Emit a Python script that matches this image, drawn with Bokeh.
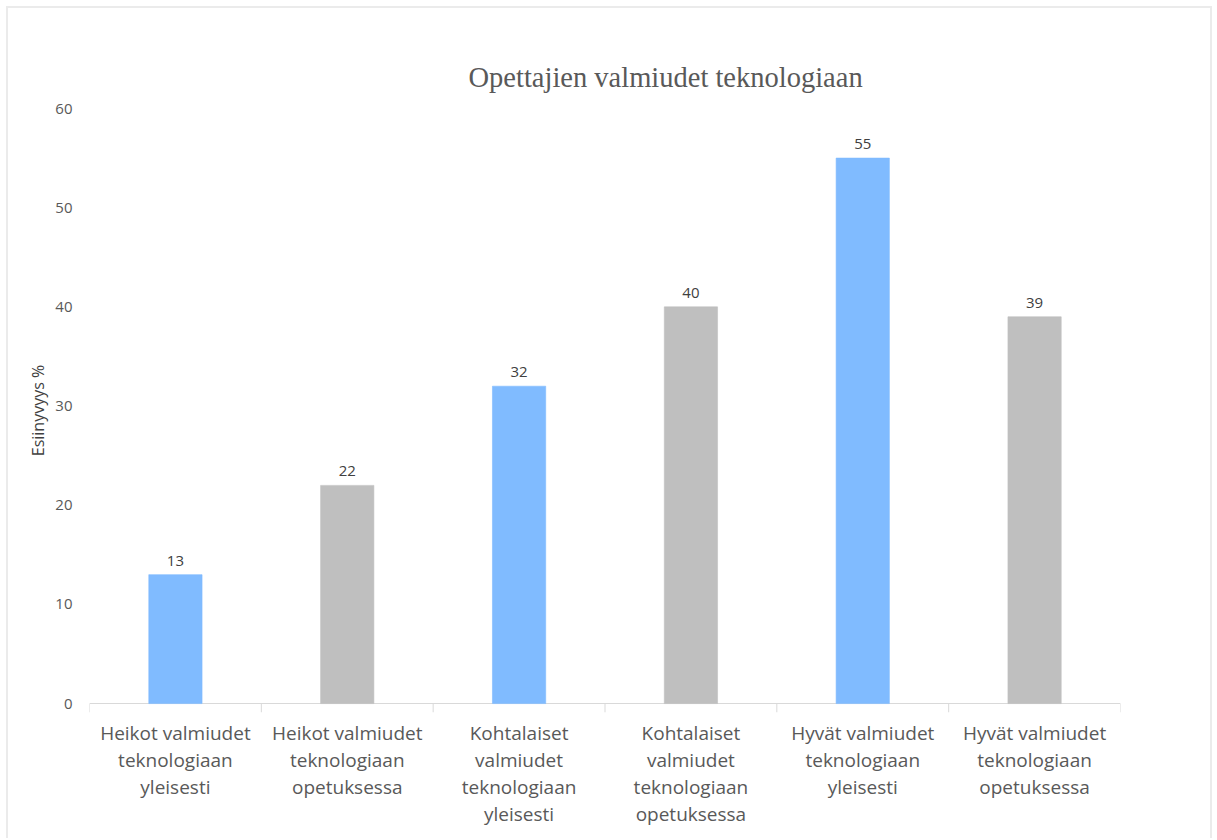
from bokeh.plotting import figure
from bokeh.models import ColumnDataSource, Range1d, FixedTicker
from bokeh.transform import dodge
from bokeh.core.properties import value
from bokeh.embed import file_html
from bokeh.resources import INLINE

categories = [
    "Heikot valmiudet\nteknologiaan\nyleisesti",
    "Heikot valmiudet\nteknologiaan\nopetuksessa",
    "Kohtalaiset\nvalmiudet\nteknologiaan\nyleisesti",
    "Kohtalaiset\nvalmiudet\nteknologiaan\nopetuksessa",
    "Hyvät valmiudet\nteknologiaan\nyleisesti",
    "Hyvät valmiudet\nteknologiaan\nopetuksessa",
]
values = [13, 22, 32, 40, 55, 39]
labels = ["13", "22", "32", "40", "55", "39"]
colors = ["#80BBFF", "#BFBFBF", "#80BBFF", "#BFBFBF", "#80BBFF", "#BFBFBF"]
y_ticks = [0, 10, 20, 30, 40, 50, 60]

FONT = "Open Sans"
TICK = 0.9  # tick length in data units (below zero)

src = ColumnDataSource(dict(cat=categories, val=values, lab=labels, col=colors))

p = figure(
    x_range=categories, y_range=Range1d(-TICK, 60),
    width=1206, height=832,
    min_border_left=81, min_border_right=94, min_border_top=100, min_border_bottom=128,
    output_backend="svg", toolbar_location=None,
    title="Opettajien valmiudet teknologiaan",
)
p.styles = {
    "margin-left": "6px", "margin-top": "6px",
    "border-top": "2px solid #EBEBEB",
    "border-left": "2px solid #EBEBEB",
    "border-right": "2px solid #EBEBEB",
}
p.outline_line_color = None
p.grid.grid_line_color = None
p.background_fill_color = "white"
p.border_fill_color = "white"

p.title.align = "left"
p.title.offset = 379
p.title.text_font = "Liberation Serif"
p.title.text_font_size = "28.5px"
p.title.text_font_style = "normal"
p.title.text_color = "#595959"
p.title.standoff = 32

# axis line at zero and category boundary ticks
p.hspan(y=[0], line_color="#D9D9D9", line_width=1)
p.segment(x0=dodge("cat", -0.5, range=p.x_range), y0=0,
          x1=dodge("cat", -0.5, range=p.x_range), y1=-TICK,
          source=src, line_color="#D9D9D9", line_width=1)
last = ColumnDataSource(dict(cat=categories[-1:]))
p.segment(x0=dodge("cat", 0.5, range=p.x_range), y0=0,
          x1=dodge("cat", 0.5, range=p.x_range), y1=-TICK,
          source=last, line_color="#D9D9D9", line_width=1)

p.vbar(x="cat", bottom=0, top="val", width=0.31, source=src,
       fill_color="col", line_color="col", line_alpha=0.6)
p.text(x="cat", y="val", text="lab", source=src, text_align="center", text_baseline="bottom",
       y_offset=-9, text_font=value(FONT), text_font_size="15px", text_color="#404040")

# y axis
ya = p.yaxis[0]
ya.ticker = FixedTicker(ticks=y_ticks)
ya.axis_line_color = None
ya.major_tick_line_color = None
ya.minor_tick_line_color = None
ya.major_label_text_font = FONT
ya.major_label_text_font_size = "15px"
ya.major_label_text_color = "#595959"
ya.major_label_standoff = 11
ya.axis_label = "Esiinyvyys %"
ya.axis_label_text_font = FONT
ya.axis_label_text_font_size = "16px"
ya.axis_label_text_font_style = "normal"
ya.axis_label_text_color = "#404040"
ya.axis_label_standoff = 3

# x axis: labels only
xa = p.xaxis[0]
xa.axis_line_color = None
xa.major_tick_line_color = None
xa.minor_tick_line_color = None
xa.major_label_text_font = FONT
xa.major_label_text_font_size = "19px"
xa.major_label_text_color = "#595959"
xa.major_label_text_line_height = 1.05
xa.major_label_standoff = 1

open("out.html", "w").write(file_html(p, INLINE))
